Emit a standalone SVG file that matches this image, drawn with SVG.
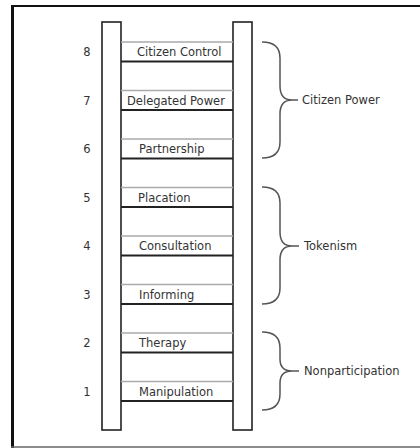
<svg xmlns="http://www.w3.org/2000/svg" width="420" height="448" viewBox="0 0 420 448">
<style>
text{font-family:"DejaVu Sans","Liberation Sans",sans-serif;font-size:11.5px;fill:#333}
.num{text-anchor:middle}
.rail{fill:#fff;stroke:#222;stroke-width:1.6}
.rt{stroke:#aaa;stroke-width:1.4}
.rb{stroke:#222;stroke-width:2}
.brace{fill:none;stroke:#555;stroke-width:1.5}
</style>
<rect width="420" height="448" fill="#fff"/>
<g id="frame">
<line x1="11" y1="6" x2="420" y2="6" stroke="#111" stroke-width="2"/>
<line x1="12.5" y1="5" x2="12.5" y2="448" stroke="#111" stroke-width="3"/>
<line x1="11" y1="447" x2="420" y2="447" stroke="#666" stroke-width="1.5"/>
</g>
<g id="ladder">
<rect class="rail" x="102" y="22" width="19" height="408"/>
<rect class="rail" x="233" y="22" width="19" height="408"/>
</g>
<g id="rung8"><line class="rt" x1="121" y1="42" x2="233" y2="42"/><line class="rb" x1="121" y1="61.5" x2="233" y2="61.5"/><text x="137" y="56">Citizen Control</text><text class="num" x="87" y="56">8</text></g>
<g id="rung7"><line class="rt" x1="121" y1="90.5" x2="233" y2="90.5"/><line class="rb" x1="121" y1="110" x2="233" y2="110"/><text x="127" y="104.5">Delegated Power</text><text class="num" x="87" y="104.5">7</text></g>
<g id="rung6"><line class="rt" x1="121" y1="139" x2="233" y2="139"/><line class="rb" x1="121" y1="158.5" x2="233" y2="158.5"/><text x="139" y="153">Partnership</text><text class="num" x="87" y="153">6</text></g>
<g id="rung5"><line class="rt" x1="121" y1="187.5" x2="233" y2="187.5"/><line class="rb" x1="121" y1="207" x2="233" y2="207"/><text x="138" y="201.5">Placation</text><text class="num" x="87" y="201.5">5</text></g>
<g id="rung4"><line class="rt" x1="121" y1="236" x2="233" y2="236"/><line class="rb" x1="121" y1="255.5" x2="233" y2="255.5"/><text x="139" y="250">Consultation</text><text class="num" x="87" y="250">4</text></g>
<g id="rung3"><line class="rt" x1="121" y1="284.5" x2="233" y2="284.5"/><line class="rb" x1="121" y1="304" x2="233" y2="304"/><text x="139" y="298.5">Informing</text><text class="num" x="87" y="298.5">3</text></g>
<g id="rung2"><line class="rt" x1="121" y1="333" x2="233" y2="333"/><line class="rb" x1="121" y1="352.5" x2="233" y2="352.5"/><text x="139" y="347">Therapy</text><text class="num" x="87" y="347">2</text></g>
<g id="rung1"><line class="rt" x1="121" y1="381.5" x2="233" y2="381.5"/><line class="rb" x1="121" y1="401" x2="233" y2="401"/><text x="139" y="395.5">Manipulation</text><text class="num" x="87" y="395.5">1</text></g>
<g id="citizen-power">
<path class="brace" d="M262,42 C274,42 280,48 280,58 L280,86 C280,95 284,100 292,100 L298,100 M292,100 C284,100 280,105 280,114 L280,142 C280,152 274,158 262,158"/>
<text x="302" y="104">Citizen Power</text>
</g>
<g id="tokenism">
<path class="brace" d="M262,187 C274,187 280,193 280,203 L280,232 C280,241 284,246 292,246 L299,246 M292,246 C284,246 280,251 280,260 L280,288 C280,298 274,304 262,304"/>
<text x="304" y="250">Tokenism</text>
</g>
<g id="nonparticipation">
<path class="brace" d="M262,332 C274,332 280,338 280,348 L280,359 C280,367 284,371 292,371 L299,371 M292,371 C284,371 280,375 280,383 L280,394 C280,404 274,410 262,410"/>
<text x="304" y="375">Nonparticipation</text>
</g>
</svg>
